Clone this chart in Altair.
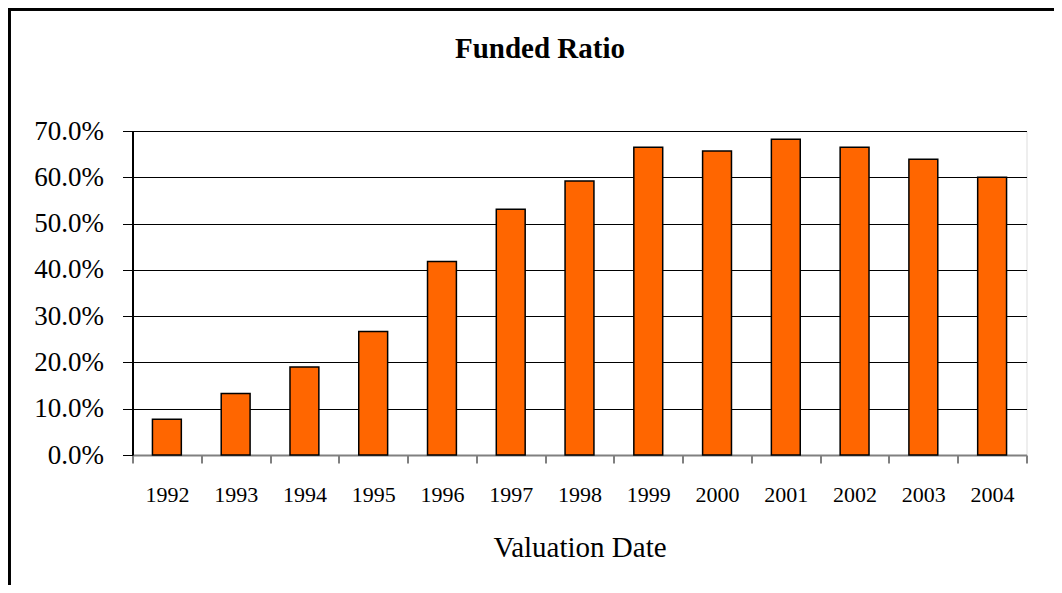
import altair as alt
import pandas as pd

years = ["1992", "1993", "1994", "1995", "1996", "1997", "1998",
         "1999", "2000", "2001", "2002", "2003", "2004"]
funded_ratio = [0.077, 0.133, 0.190, 0.267, 0.418, 0.531, 0.592,
                0.665, 0.657, 0.682, 0.665, 0.639, 0.600]
y_ticks = [0.0, 0.1, 0.2, 0.3, 0.4, 0.5, 0.6, 0.7]
chart_title = "Funded Ratio"

df = pd.DataFrame({"year": years, "ratio": funded_ratio})

SERIF = "Liberation Serif"
PW, PH = 894, 324
LEFT, TOP = 124.5, 123

bars = alt.Chart(df).mark_bar(
    color="#FF6600", stroke="black", strokeWidth=1.5,
    width=alt.RelativeBandSize(0.42)
).encode(
    x=alt.X("year:N", sort=years,
            scale=alt.Scale(paddingInner=0, paddingOuter=0),
            axis=alt.Axis(title="Valuation Date", labelAngle=0,
                          tickBand="extent", labelFont=SERIF, labelFontSize=22,
                          labelColor="black", labelPadding=21,
                          titleFont=SERIF, titleFontSize=29, titleFontWeight="normal",
                          titleColor="black", titlePadding=28,
                          tickColor="black", tickSize=8, tickWidth=1,
                          domainColor="#808080", domainWidth=2, grid=False)),
    y=alt.Y("ratio:Q",
            scale=alt.Scale(domain=[0, 0.7], nice=False),
            axis=alt.Axis(title=None, values=y_ticks, format=".1%",
                          labelFont=SERIF, labelFontSize=27, labelColor="black",
                          labelPadding=19, tickColor="black", tickSize=10,
                          tickWidth=1, domainColor="black", domainWidth=2,
                          grid=True, gridColor="black", gridWidth=1,
                          gridOpacity=1)),
)

frame = alt.Chart(df).mark_rect(
    fill=None, stroke="black", strokeWidth=2.5, clip=False
).encode(
    x=alt.value(9 - 132.5), x2=alt.value(1200),
    y=alt.value(9 - 131), y2=alt.value(800)
)

title = alt.Chart(pd.DataFrame({"t": [chart_title]})).mark_text(
    font=SERIF, fontSize=29, fontWeight="bold", color="black",
    align="center", baseline="alphabetic"
).encode(
    text="t:N", x=alt.value(540 - 132.5), y=alt.value(58 - 131)
)

chart = alt.layer(frame, bars, title).properties(
    width=PW, height=PH,
    autosize=alt.AutoSizeParams(type="none"),
    padding={"left": LEFT, "top": TOP, "right": 1046 - LEFT - PW,
             "bottom": 577 - TOP - PH},
).configure_view(
    stroke="#A0A0A0", strokeWidth=2
).configure(background="white")

chart.save("out.html", embed_options={"renderer": "svg", "actions": False})
